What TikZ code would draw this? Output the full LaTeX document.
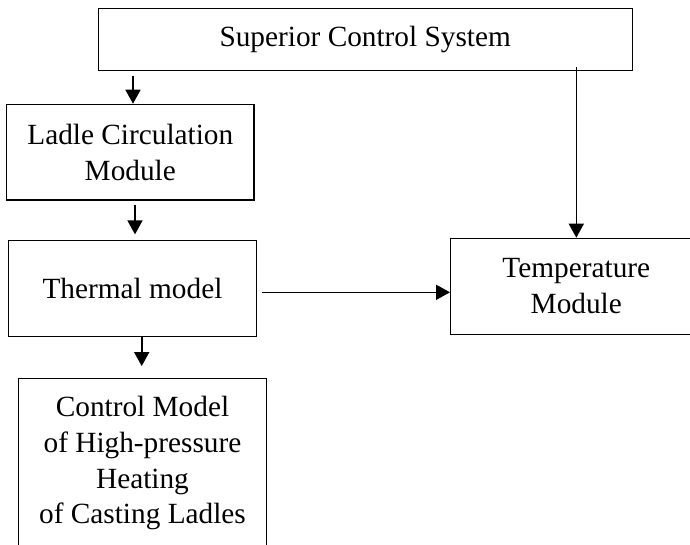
\documentclass[tikz,border=0pt]{standalone}
\usepackage{fontspec}
\setmainfont{Liberation Serif}
\usetikzlibrary{arrows.meta}
\tikzset{
  box/.style={draw, line width=1.2pt, rectangle, align=center, inner sep=0pt,
    font=\fontsize{29.3}{35.6}\selectfont},
  arr/.style={line width=1.6pt, -{Triangle[width=15pt,length=14pt]}}
}
\begin{document}
\begin{tikzpicture}[x=1pt,y=-1pt]
\useasboundingbox (0,0) rectangle (690,545);
\clip (0,0) rectangle (690,545);
\node[box, minimum width=534pt, minimum height=62pt] (top) at (365.2,39.3) {Superior Control System};
\node[box, minimum width=247.3pt, minimum height=95.7pt] (ladle) at (130.3,152.2) {Ladle Circulation\\Module};
\node[box, minimum width=248.4pt, minimum height=96pt] (thermal) at (132.5,288.7) {Thermal model};
\node[box, minimum width=251.3pt, minimum height=96pt] (temp) at (576.3,286.3) {Temperature\\Module};
\node[box, minimum width=248.4pt, minimum height=170pt] (control) at (142.5,463.3) {Control Model\\of High-pressure\\Heating\\of Casting Ladles};
\draw[arr] ([xshift=2.7pt,yshift=-4.7pt]top.south -| ladle.north) -- ([xshift=2.7pt]ladle.north);
\draw[arr] ([xshift=4.7pt,yshift=-4pt]ladle.south) -- ([xshift=2.5pt,yshift=5.7pt]thermal.north);
\draw[arr] ([xshift=9.2pt]thermal.south) -- ([xshift=-0.8pt,yshift=11.6pt]control.north);
\draw[arr] ([yshift=3.6pt]top.south -| temp.north) -- (temp.north);
\draw[arr] ([xshift=4.3pt,yshift=-3.6pt]thermal.east) -- ([yshift=-6pt]temp.west);
\end{tikzpicture}
\end{document}
